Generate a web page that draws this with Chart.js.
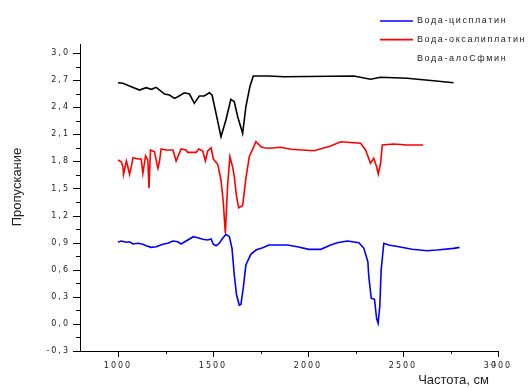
<!DOCTYPE html>
<html>
<head>
<meta charset="utf-8">
<script src="https://cdn.jsdelivr.net/npm/chart.js@4"></script>
<style>
  body { margin: 0; background: #fff; }
</style>
</head>
<body>
<canvas id="ir-chart" width="532" height="388"></canvas>
<script>
// spectra, [wavenumber, value]
const cisplatin = [
  [1000, 0.904], [1017, 0.918], [1044, 0.904], [1061, 0.91], [1079, 0.885], [1105, 0.893],
  [1131, 0.882], [1148, 0.866], [1175, 0.848], [1201, 0.855], [1236, 0.882], [1262, 0.893],
  [1289, 0.918], [1315, 0.91], [1332, 0.885], [1367, 0.929], [1397, 0.966], [1420, 0.955],
  [1446, 0.937], [1472, 0.929], [1490, 0.94], [1502, 0.882], [1516, 0.866], [1533, 0.893],
  [1551, 0.948], [1568, 0.992], [1586, 0.966], [1600, 0.837], [1612, 0.542], [1624, 0.32],
  [1638, 0.209], [1647, 0.217], [1659, 0.394], [1673, 0.652], [1699, 0.771], [1726, 0.818],
  [1761, 0.844], [1795, 0.874], [1857, 0.874], [1892, 0.874], [1944, 0.855], [2005, 0.826],
  [2067, 0.826], [2119, 0.874], [2154, 0.899], [2207, 0.918], [2268, 0.899], [2294, 0.837],
  [2315, 0.689], [2320, 0.523], [2333, 0.284], [2350, 0.273], [2361, 0.062], [2369, 0.007],
  [2378, 0.198], [2385, 0.597], [2399, 0.893], [2425, 0.874], [2478, 0.855], [2548, 0.826],
  [2627, 0.811], [2679, 0.818], [2766, 0.837], [2798, 0.848]
];

const oxaliplatin = [
  [1000, 1.815], [1017, 1.796], [1026, 1.741], [1029, 1.657], [1044, 1.804], [1052, 1.741],
  [1061, 1.657], [1070, 1.741], [1079, 1.841], [1105, 1.826], [1122, 1.826], [1131, 1.668],
  [1145, 1.863], [1157, 1.815], [1163, 1.502], [1171, 1.926], [1192, 1.907], [1210, 1.723],
  [1218, 1.796], [1227, 1.937], [1253, 1.926], [1289, 1.926], [1306, 1.804], [1332, 1.937],
  [1358, 1.926], [1367, 1.9], [1411, 1.9], [1425, 1.937], [1446, 1.915], [1460, 1.804],
  [1472, 1.915], [1490, 1.951], [1502, 1.826], [1525, 1.768], [1542, 1.594], [1554, 1.353],
  [1565, 1.003], [1577, 1.538], [1589, 1.852], [1603, 1.741], [1612, 1.63], [1624, 1.409],
  [1635, 1.287], [1656, 1.309], [1673, 1.613], [1691, 1.852], [1726, 2.018], [1752, 1.962],
  [1769, 1.951], [1795, 1.945], [1857, 1.956], [1909, 1.934], [2032, 1.918], [2119, 1.97],
  [2172, 2.018], [2277, 2.0], [2303, 1.926], [2329, 1.779], [2346, 1.834], [2361, 1.741],
  [2370, 1.66], [2382, 1.779], [2391, 1.981], [2451, 1.992], [2522, 1.981], [2606, 1.981]
];

const thirdSample = [
  [1000, 2.67], [1026, 2.665], [1070, 2.627], [1113, 2.59], [1148, 2.616], [1175, 2.598],
  [1201, 2.62], [1245, 2.546], [1271, 2.535], [1297, 2.498], [1315, 2.516], [1349, 2.56],
  [1376, 2.546], [1402, 2.443], [1428, 2.524], [1454, 2.524], [1481, 2.56], [1495, 2.535],
  [1516, 2.332], [1542, 2.073], [1568, 2.258], [1594, 2.487], [1612, 2.461], [1630, 2.295],
  [1656, 2.111], [1673, 2.405], [1694, 2.627], [1712, 2.745], [1795, 2.745], [1874, 2.738],
  [2241, 2.745], [2329, 2.709], [2382, 2.731], [2522, 2.72], [2661, 2.693], [2766, 2.671]
];

const seriesNames = ["Вода-цисплатин", "Вода-оксалиплатин", "Вода-алоСфмин"];
const seriesColors = ["#0000ff", "#ff0000", "#000000"];

const xTickValues = [1000, 1250, 1500, 1750, 2000, 2250, 2500, 2750, 3000];
const yTickValues = [-0.3, -0.15, 0, 0.15, 0.3, 0.45, 0.6, 0.75, 0.9, 1.05, 1.2, 1.35,
  1.5, 1.65, 1.8, 1.95, 2.1, 2.25, 2.4, 2.55, 2.7, 2.85, 3.0];

const toPoints = rows => rows.map(r => ({ x: r[0], y: r[1] }));
const lineStyle = { borderWidth: 1.6, pointRadius: 0, tension: 0, fill: false };

const data = {
  datasets: [
    { label: seriesNames[0], data: toPoints(cisplatin), borderColor: seriesColors[0], order: 1, ...lineStyle },
    { label: seriesNames[1], data: toPoints(oxaliplatin), borderColor: seriesColors[1], order: 0, ...lineStyle },
    { label: seriesNames[2], data: toPoints(thirdSample), borderColor: seriesColors[2], order: 2, ...lineStyle },
  ],
};

const tickFont = { family: "'DejaVu Sans'", size: 8 };

// spaced-out lettering for the tick labels
const spacing = {
  id: "spacing",
  beforeDraw(chart) {
    chart.ctx.letterSpacing = "2px";
  },
};

// short outward tick marks, longer on labelled values
const tickMarks = {
  id: "tickMarks",
  afterDraw(chart) {
    const { ctx, scales: { x, y } } = chart;
    ctx.save();
    ctx.strokeStyle = "#000";
    ctx.lineWidth = 1;
    x.ticks.forEach(t => {
      const px = Math.round(x.getPixelForValue(t.value)) + 0.5;
      const len = t.value % 500 === 0 ? 6 : 3;
      ctx.beginPath();
      ctx.moveTo(px, x.top);
      ctx.lineTo(px, x.top + len);
      ctx.stroke();
    });
    y.ticks.forEach((t, i) => {
      const py = Math.round(y.getPixelForValue(t.value)) + 0.5;
      const len = i % 2 === 0 ? 7 : 4;
      ctx.beginPath();
      ctx.moveTo(y.right, py);
      ctx.lineTo(y.right - len, py);
      ctx.stroke();
    });
    ctx.restore();
  },
};

// axis titles and the legend box in the top right corner
const legendLines = [true, true, false];
const captions = {
  id: "captions",
  afterDraw(chart) {
    const ctx = chart.ctx;
    ctx.save();
    ctx.fillStyle = "#222";
    ctx.letterSpacing = "0px";
    ctx.font = "13px 'Liberation Sans'";
    ctx.textBaseline = "middle";

    ctx.save();
    ctx.translate(17, 187);
    ctx.rotate(-Math.PI / 2);
    ctx.textAlign = "center";
    ctx.fillText("Пропускание", 0, 0);
    ctx.restore();

    ctx.textAlign = "right";
    ctx.fillText("Частота, см", 489, 380);
    ctx.font = "7px 'Liberation Sans'";
    ctx.textAlign = "left";
    ctx.fillText("-1", 490, 364);

    ctx.font = "9px 'Liberation Sans'";
    ctx.letterSpacing = "1.6px";
    chart.data.datasets.forEach((ds, i) => {
      const ly = 21 + i * 18.6;
      if (legendLines[i]) {
        ctx.strokeStyle = ds.borderColor;
        ctx.lineWidth = 1.6;
        ctx.beginPath();
        ctx.moveTo(380, ly);
        ctx.lineTo(413, ly);
        ctx.stroke();
      }
      ctx.fillStyle = "#222";
      ctx.fillText(ds.label, 417, ly);
    });
    ctx.restore();
  },
};

const config = {
  type: "line",
  data: data,
  options: {
    responsive: false,
    animation: false,
    layout: { padding: { top: 44, right: 34, bottom: 0, left: 0 } },
    plugins: {
      legend: { display: false },
      tooltip: { enabled: false },
    },
    scales: {
      x: {
        type: "linear",
        min: 800,
        max: 3000,
        afterBuildTicks: s => { s.ticks = xTickValues.map(v => ({ value: v })); },
        afterFit: s => { s.height = 37; },
        grid: { display: false, drawTicks: true, tickLength: 6 },
        border: { display: true, color: "#000", width: 1 },
        ticks: {
          autoSkip: false,
          maxRotation: 0,
          padding: 4,
          color: "#222",
          font: tickFont,
          callback: v => (v % 500 === 0 ? String(v) : ""),
        },
      },
      y: {
        min: -0.3,
        max: 3.1,
        afterBuildTicks: s => { s.ticks = yTickValues.map(v => ({ value: v })); },
        afterFit: s => { s.width = 80; },
        grid: { display: false, drawTicks: true, tickLength: 7 },
        border: { display: true, color: "#000", width: 1 },
        ticks: {
          autoSkip: false,
          padding: 3,
          color: "#222",
          font: tickFont,
          callback: (v, i) => (i % 2 === 0 ? v.toFixed(1).replace(".", ",") : ""),
        },
      },
    },
  },
  plugins: [spacing, tickMarks, captions],
};

let ctx = document.getElementById("ir-chart");
const spectraChart = new Chart(ctx, config);
</script>
</body>
</html>
